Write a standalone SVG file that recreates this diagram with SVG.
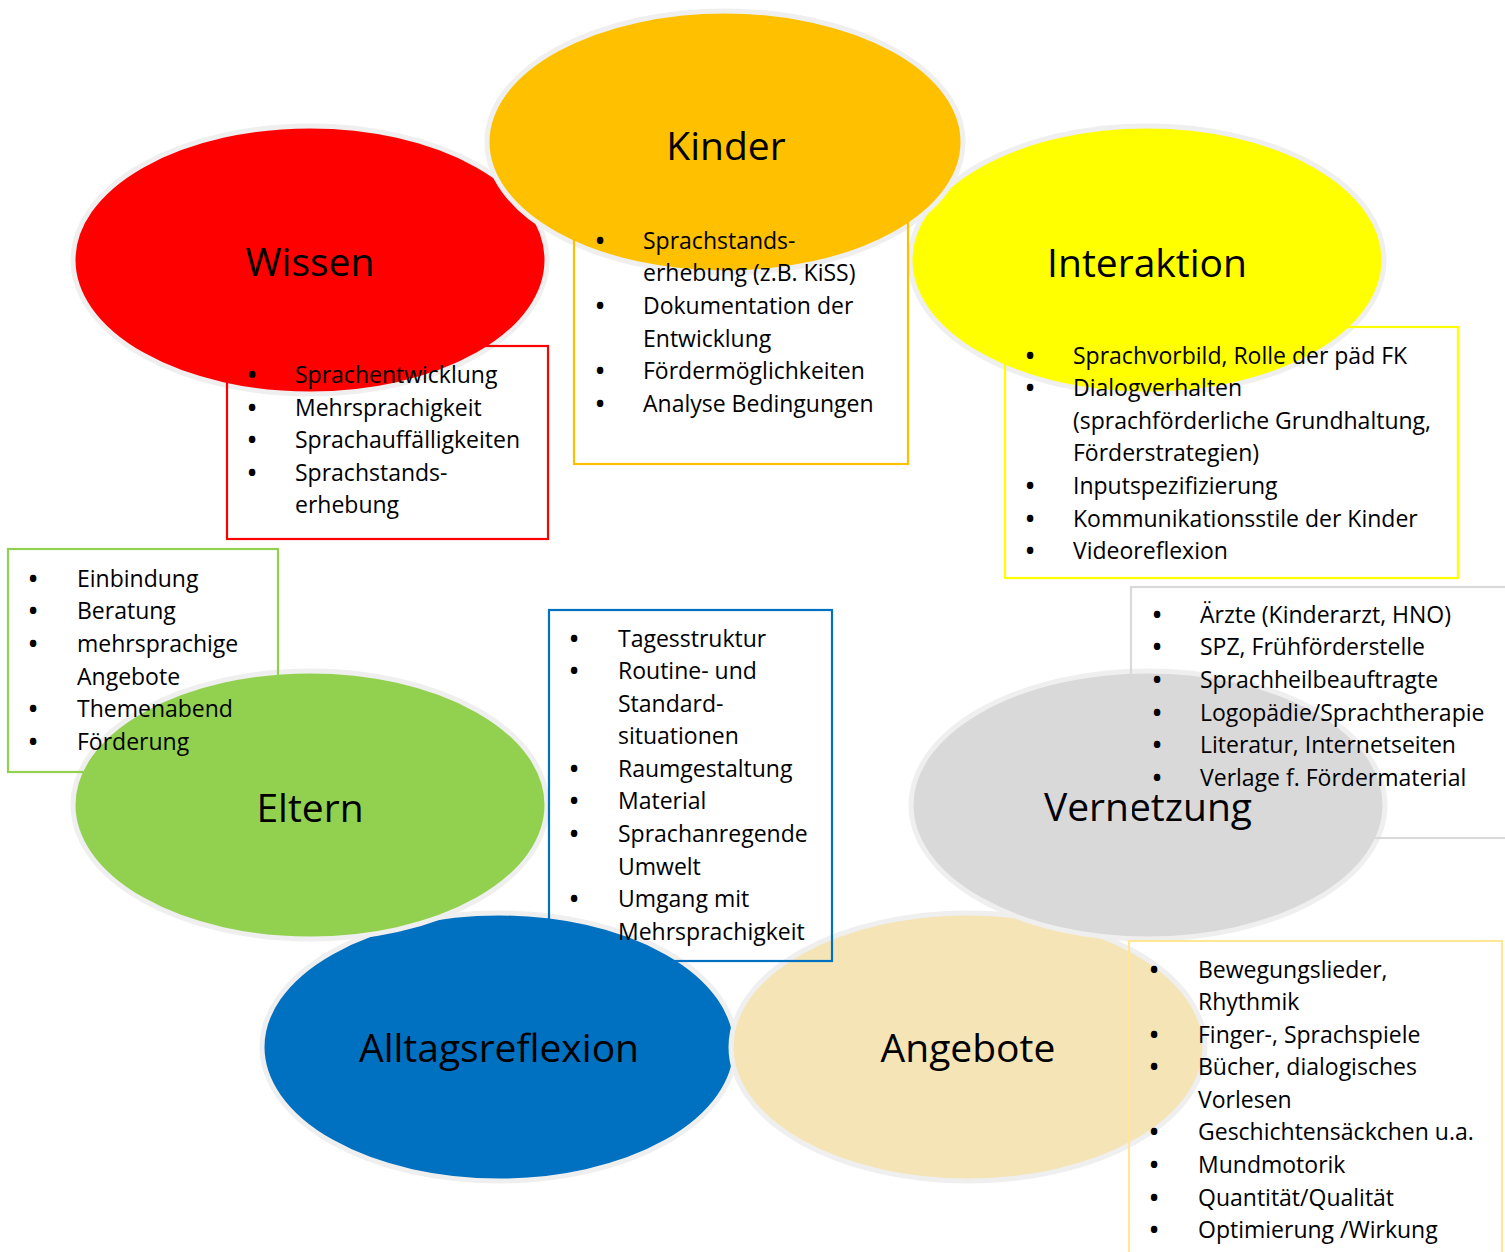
<svg xmlns="http://www.w3.org/2000/svg" width="1505" height="1252" viewBox="0 0 1505 1252">
<style>
.bg{fill:#ffffff}
.ell{stroke:#EFEFEF;stroke-width:5}
.title{font-family:"Open Sans","Liberation Sans",sans-serif;font-size:39px;fill:#000;text-anchor:middle}
.list{font-family:"Open Sans","Liberation Sans",sans-serif;font-size:23px;fill:#000}
.bul{font-family:"Open Sans","Liberation Sans",sans-serif;font-size:23px;fill:#000;text-anchor:middle;font-weight:bold}
.box{fill:none;stroke-width:2.2}
</style>
<rect class="bg" x="0" y="0" width="1505" height="1252"/>
<g id="connectors"></g>

<!-- ellipses (nodes) -->
<g id="wissen">
  <ellipse class="ell" cx="310" cy="260" rx="237" ry="134" fill="#FF0000"/>
  <text class="title" x="310" y="276">Wissen</text>
</g>
<g id="interaktion">
  <ellipse class="ell" cx="1147" cy="260" rx="237" ry="134" fill="#FFFF00"/>
  <text class="title" x="1147" y="277">Interaktion</text>
</g>
<g id="kinder">
  <ellipse class="ell" cx="725" cy="142" rx="238" ry="131" fill="#FFC000"/>
  <text class="title" x="726" y="160">Kinder</text>
</g>
<g id="alltagsreflexion">
  <ellipse class="ell" cx="499" cy="1047" rx="237" ry="134" fill="#0070C0"/>
  <text class="title" x="499" y="1062">Alltagsreflexion</text>
</g>
<g id="eltern">
  <ellipse class="ell" cx="310" cy="805" rx="237" ry="134" fill="#92D050"/>
  <text class="title" x="310" y="822">Eltern</text>
</g>
<g id="angebote">
  <ellipse class="ell" cx="968" cy="1047" rx="237" ry="134" fill="#F5E4B5"/>
  <text class="title" x="968" y="1062">Angebote</text>
</g>
<g id="vernetzung">
  <ellipse class="ell" cx="1148" cy="805" rx="237" ry="134" fill="#D9D9D9"/>
  <text class="title" x="1148" y="821">Vernetzung</text>
</g>

<!-- list boxes -->
<g id="wissen-liste">
  <rect class="box" x="227" y="346" width="321" height="193" stroke="#FF0000"/>
  <text class="bul"><tspan x="252" y="383">•</tspan><tspan x="252" y="416">•</tspan><tspan x="252" y="448">•</tspan><tspan x="252" y="481">•</tspan></text>
  <text class="list"><tspan x="295" y="383">Sprachentwicklung</tspan><tspan x="295" y="416">Mehrsprachigkeit</tspan><tspan x="295" y="448">Sprachauffälligkeiten</tspan><tspan x="295" y="481">Sprachstands-</tspan><tspan x="295" y="513">erhebung</tspan></text>
</g>
<g id="kinder-liste">
  <rect class="box" x="574" y="210" width="334" height="254" stroke="#FFC000"/>
  <text class="bul"><tspan x="600" y="249">•</tspan><tspan x="600" y="314">•</tspan><tspan x="600" y="379">•</tspan><tspan x="600" y="412">•</tspan></text>
  <text class="list"><tspan x="643" y="249">Sprachstands-</tspan><tspan x="643" y="281">erhebung (z.B. KiSS)</tspan><tspan x="643" y="314">Dokumentation der</tspan><tspan x="643" y="347">Entwicklung</tspan><tspan x="643" y="379">Fördermöglichkeiten</tspan><tspan x="643" y="412">Analyse Bedingungen</tspan></text>
</g>
<g id="interaktion-liste">
  <rect class="box" x="1005" y="327" width="453" height="251" stroke="#FFFF00"/>
  <text class="bul"><tspan x="1030" y="364">•</tspan><tspan x="1030" y="396">•</tspan><tspan x="1030" y="494">•</tspan><tspan x="1030" y="527">•</tspan><tspan x="1030" y="559">•</tspan></text>
  <text class="list"><tspan x="1073" y="364">Sprachvorbild, Rolle der päd FK</tspan><tspan x="1073" y="396">Dialogverhalten</tspan><tspan x="1073" y="429">(sprachförderliche Grundhaltung,</tspan><tspan x="1073" y="461">Förderstrategien)</tspan><tspan x="1073" y="494">Inputspezifizierung</tspan><tspan x="1073" y="527">Kommunikationsstile der Kinder</tspan><tspan x="1073" y="559">Videoreflexion</tspan></text>
</g>
<g id="vernetzung-liste">
  <rect class="box" x="1131" y="587" width="380" height="251" stroke="#D9D9D9"/>
  <text class="bul"><tspan x="1157" y="623">•</tspan><tspan x="1157" y="655">•</tspan><tspan x="1157" y="688">•</tspan><tspan x="1157" y="721">•</tspan><tspan x="1157" y="753">•</tspan><tspan x="1157" y="786">•</tspan></text>
  <text class="list"><tspan x="1200" y="623">Ärzte (Kinderarzt, HNO)</tspan><tspan x="1200" y="655">SPZ, Frühförderstelle</tspan><tspan x="1200" y="688">Sprachheilbeauftragte</tspan><tspan x="1200" y="721">Logopädie/Sprachtherapie</tspan><tspan x="1200" y="753">Literatur, Internetseiten</tspan><tspan x="1200" y="786">Verlage f. Fördermaterial</tspan></text>
</g>
<g id="eltern-liste">
  <rect class="box" x="8" y="549" width="270" height="223" stroke="#92D050"/>
  <text class="bul"><tspan x="33" y="587">•</tspan><tspan x="33" y="619">•</tspan><tspan x="33" y="652">•</tspan><tspan x="33" y="717">•</tspan><tspan x="33" y="750">•</tspan></text>
  <text class="list"><tspan x="77" y="587">Einbindung</tspan><tspan x="77" y="619">Beratung</tspan><tspan x="77" y="652">mehrsprachige</tspan><tspan x="77" y="685">Angebote</tspan><tspan x="77" y="717">Themenabend</tspan><tspan x="77" y="750">Förderung</tspan></text>
</g>
<g id="alltagsreflexion-liste">
  <rect class="box" x="549" y="610" width="283" height="351" stroke="#0070C0"/>
  <text class="bul"><tspan x="574" y="647">•</tspan><tspan x="574" y="679">•</tspan><tspan x="574" y="777">•</tspan><tspan x="574" y="809">•</tspan><tspan x="574" y="842">•</tspan><tspan x="574" y="907">•</tspan></text>
  <text class="list"><tspan x="618" y="647">Tagesstruktur</tspan><tspan x="618" y="679">Routine- und</tspan><tspan x="618" y="712">Standard-</tspan><tspan x="618" y="744">situationen</tspan><tspan x="618" y="777">Raumgestaltung</tspan><tspan x="618" y="809">Material</tspan><tspan x="618" y="842">Sprachanregende</tspan><tspan x="618" y="875">Umwelt</tspan><tspan x="618" y="907">Umgang mit</tspan><tspan x="618" y="940">Mehrsprachigkeit</tspan></text>
</g>
<g id="angebote-liste">
  <rect class="box" x="1129" y="941" width="373" height="330" stroke="#FFE699"/>
  <text class="bul"><tspan x="1154" y="978">•</tspan><tspan x="1154" y="1043">•</tspan><tspan x="1154" y="1075">•</tspan><tspan x="1154" y="1140">•</tspan><tspan x="1154" y="1173">•</tspan><tspan x="1154" y="1206">•</tspan><tspan x="1154" y="1238">•</tspan></text>
  <text class="list"><tspan x="1198" y="978">Bewegungslieder,</tspan><tspan x="1198" y="1010">Rhythmik</tspan><tspan x="1198" y="1043">Finger-, Sprachspiele</tspan><tspan x="1198" y="1075">Bücher, dialogisches</tspan><tspan x="1198" y="1108">Vorlesen</tspan><tspan x="1198" y="1140">Geschichtensäckchen u.a.</tspan><tspan x="1198" y="1173">Mundmotorik</tspan><tspan x="1198" y="1206">Quantität/Qualität</tspan><tspan x="1198" y="1238">Optimierung /Wirkung</tspan></text>
</g>
</svg>
